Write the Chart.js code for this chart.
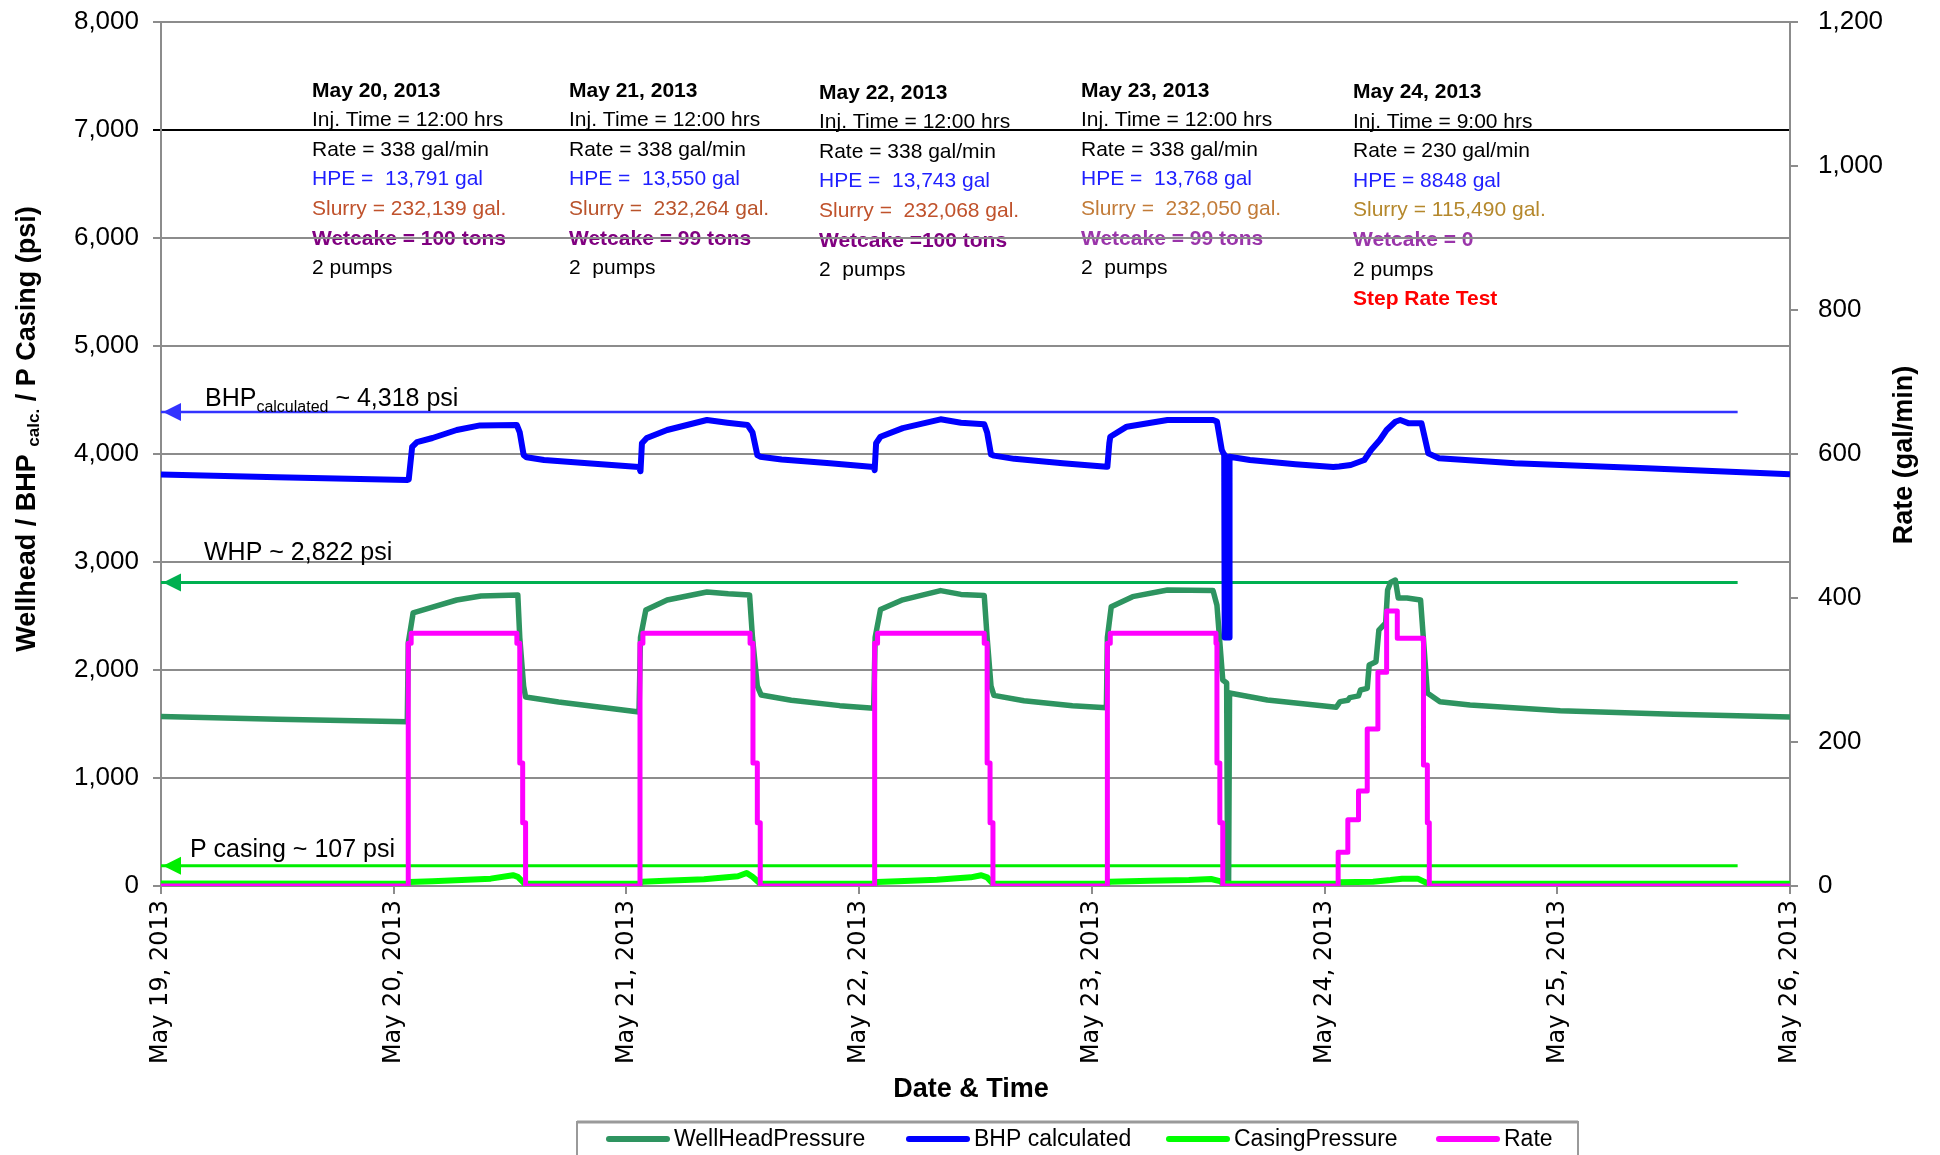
<!DOCTYPE html>
<html>
<head>
<meta charset="utf-8">
<title>Injection pressures and rate, May 19-26, 2013</title>
<script src="https://cdn.jsdelivr.net/npm/chart.js@4.4.0/dist/chart.umd.min.js"></script>
<style>
  html, body { margin: 0; padding: 0; background: #fff; }
  canvas { display: block; }
</style>
</head>
<body>
<canvas id="chart" width="1940" height="1155" style="width:1940px;height:1155px"></canvas>
<script>
// Time axis: hours since May 19, 2013 00:00
const xTickLabels = ['May 19, 2013', 'May 20, 2013', 'May 21, 2013', 'May 22, 2013',
                     'May 23, 2013', 'May 24, 2013', 'May 25, 2013', 'May 26, 2013'];

// WellHeadPressure (psi)
const whpHours = [0, 12, 25.4, 25.5, 26.0, 28.0, 30.5, 33.0, 36.8, 37.0, 37.4, 37.6, 41.0, 46.0, 49.3,
  49.45, 50.0, 52.2, 56.3, 58.5, 60.7, 61.0, 61.5, 61.9, 65.0, 70.0, 73.5,
  73.65, 74.2, 76.5, 80.4, 82.5, 84.9, 85.2, 85.6, 85.9, 89.0, 94.0, 97.5,
  97.6, 98.0, 100.2, 103.8, 108.5, 108.9, 109.5, 109.9, 110.0, 110.1, 110.2, 114.1, 121.2,
  121.6, 122.4, 122.6, 123.5, 123.7, 124.4, 124.6, 125.3, 125.6, 126.3, 126.5, 126.8, 127.3, 127.6,
  128.5, 129.9, 130.3, 130.6, 131.9, 135.0, 144.3, 156.0, 168.0];
const whpPsi = [1570, 1545, 1521, 2250, 2528, 2583, 2648, 2685, 2694, 2300, 1850, 1750, 1704, 1648, 1611,
  2300, 2555, 2648, 2722, 2705, 2694, 2300, 1850, 1768, 1720, 1670, 1645,
  2300, 2560, 2650, 2735, 2700, 2690, 2300, 1850, 1765, 1715, 1670, 1650,
  2300, 2586, 2679, 2741, 2735, 2600, 1907, 1880, 0, 0, 1787, 1722, 1655,
  1707, 1720, 1744, 1760, 1815, 1830, 2046, 2077, 2370, 2435, 2741, 2810, 2833, 2667,
  2667, 2648, 2157, 1787, 1707, 1676, 1623, 1590, 1565];

// BHP calculated (psi)
const bhpHours = [0, 12, 25.4, 25.55, 25.9, 26.4, 28.0, 30.5, 32.9, 36.7, 37.0, 37.4, 37.7, 39.5, 44.0, 49.3,
  49.45, 49.6, 50.1, 52.2, 56.3, 58.4, 60.5, 61.0, 61.5, 61.8, 64.0, 69.0, 73.5,
  73.6, 73.75, 74.2, 76.5, 80.4, 82.5, 84.9, 85.2, 85.6, 85.9, 88.0, 93.0, 97.5,
  97.6, 97.8, 97.9, 99.6, 103.8, 108.5, 108.9, 109.4, 109.65, 109.7, 110.15, 110.2, 112.3, 117.0, 120.9,
  121.5, 122.7, 124.1, 124.8, 125.7, 126.4, 127.3, 127.8, 128.7, 130.0, 130.7, 131.8, 139.6, 153.2, 168.0];
const bhpPsi = [3810, 3785, 3760, 3765, 4065, 4110, 4148, 4222, 4265, 4268, 4200, 3990, 3970, 3945, 3915, 3880,
  3840, 4100, 4148, 4222, 4315, 4290, 4268, 4200, 3990, 3975, 3950, 3915, 3880,
  3850, 4100, 4160, 4240, 4321, 4290, 4275, 4200, 3995, 3985, 3955, 3915, 3882,
  3882, 4100, 4160, 4253, 4315, 4315, 4300, 4037, 3990, 2300, 2300, 3975, 3944, 3905, 3880,
  3885, 3898, 3944, 4037, 4130, 4222, 4299, 4315, 4284, 4284, 4006, 3960, 3914, 3867, 3812];

// CasingPressure (psi)
const casingHours = [0, 25.4, 25.6, 28.0, 31.0, 34.0, 36.3, 36.8, 37.5,
  49.4, 49.6, 52.0, 56.0, 59.5, 60.4, 61.0, 61.8,
  73.6, 73.8, 76.0, 80.0, 83.5, 84.6, 85.2, 85.8,
  97.6, 97.8, 102.0, 106.0, 108.3, 109.2, 109.6,
  121.4, 121.6, 125.0, 126.8, 128.0, 129.6, 130.5, 131.0, 168.0];
const casingPsi = [22, 20, 38, 45, 55, 68, 100, 85, 22,
  20, 40, 48, 62, 90, 120, 85, 22,
  20, 38, 45, 58, 80, 100, 80, 22,
  20, 40, 48, 55, 65, 45, 20,
  20, 35, 40, 55, 68, 68, 30, 20, 20];

// Rate (gal/min), each value holds until the next time
const rateHours = [0, 25.5, 25.8, 36.7, 37.0, 37.3, 37.6,
  49.4, 49.7, 60.75, 61.05, 61.5, 61.8,
  73.6, 73.9, 84.9, 85.2, 85.5, 85.8,
  97.6, 97.9, 108.8, 108.9, 109.2, 109.5,
  121.4, 122.4, 123.5, 124.4, 125.5, 126.4, 127.5, 130.2, 130.6, 130.8, 168.0];
const rateGpm = [0, 337, 351, 337, 171, 88, 0,
  337, 351, 337, 171, 88, 0,
  337, 351, 337, 171, 88, 0,
  337, 351, 337, 171, 88, 0,
  47, 92, 132, 218, 297, 382, 344, 168, 88, 0, 0];

// Reference levels drawn as arrows (psi) and their span (hours)
const refSpan = [0, 162.6];
const bhpRefPsi = 4390;
const whpRefPsi = 2810;
const casingRefPsi = 188;

// Daily injection notes
const noteBlocks = [
  ['May 20, 2013', 'Inj. Time = 12:00 hrs', 'Rate = 338 gal/min', 'HPE =  13,791 gal', 'Slurry = 232,139 gal.', 'Wetcake = 100 tons', '2 pumps'],
  ['May 21, 2013', 'Inj. Time = 12:00 hrs', 'Rate = 338 gal/min', 'HPE =  13,550 gal', 'Slurry =  232,264 gal.', 'Wetcake = 99 tons', '2  pumps'],
  ['May 22, 2013', 'Inj. Time = 12:00 hrs', 'Rate = 338 gal/min', 'HPE =  13,743 gal', 'Slurry =  232,068 gal.', 'Wetcake =100 tons', '2  pumps'],
  ['May 23, 2013', 'Inj. Time = 12:00 hrs', 'Rate = 338 gal/min', 'HPE =  13,768 gal', 'Slurry =  232,050 gal.', 'Wetcake = 99 tons', '2  pumps'],
  ['May 24, 2013', 'Inj. Time = 9:00 hrs', 'Rate = 230 gal/min', 'HPE = 8848 gal', 'Slurry = 115,490 gal.', 'Wetcake = 0', '2 pumps', 'Step Rate Test']
];

const FONT = '"Liberation Sans", Arial, sans-serif';
const toPoints = (xs, ys) => xs.map((x, i) => ({ x: x, y: ys[i] }));

// note block placement and row styles
const noteLeft = [312, 569, 819, 1081, 1353];
const noteTop = [96.5, 96.5, 98.5, 96.5, 98];
const noteRowStyles = [
  { bold: true, color: '#000' },
  { bold: false, color: '#000' },
  { bold: false, color: '#000' },
  { bold: false, color: '#1f1fff' },
  { bold: false, color: '#c0522c' },
  { bold: true, color: '#800080' },
  { bold: false, color: '#000' },
  { bold: true, color: '#ff0000' }
];
const slurryColors = ['#c0522c', '#b9532b', '#c0522c', '#c27b38', '#b5882c'];
const wetcakeColors = ['#800080', '#800080', '#800080', '#9a35aa', '#9a35aa'];

const notesPlugin = {
  id: 'notes',
  beforeDraw(chart) {
    const ctx = chart.ctx;
    ctx.save();
    ctx.fillStyle = '#fff';
    ctx.fillRect(0, 0, chart.width, chart.height);
    ctx.textBaseline = 'alphabetic';
    ctx.textAlign = 'left';
    noteBlocks.forEach((lines, b) => {
      lines.forEach((txt, r) => {
        const st = noteRowStyles[r];
        let color = st.color;
        if (r === 4) color = slurryColors[b];
        if (r === 5) color = wetcakeColors[b];
        ctx.font = (st.bold ? 'bold ' : '') + '21px ' + FONT;
        ctx.fillStyle = color;
        ctx.fillText(txt, noteLeft[b], noteTop[b] + r * 29.6);
      });
    });
    ctx.restore();
  }
};

// draws text made of [text, size, baselineShift] runs, left to right
function drawRuns(ctx, runs, x, y, bold) {
  let cx = x;
  runs.forEach(([t, size, dy]) => {
    ctx.font = (bold ? 'bold ' : '') + size + 'px ' + FONT;
    ctx.fillText(t, cx, y + dy);
    cx += ctx.measureText(t).width;
  });
  return cx - x;
}
function runsWidth(ctx, runs, bold) {
  let w = 0;
  runs.forEach(([t, size]) => {
    ctx.font = (bold ? 'bold ' : '') + size + 'px ' + FONT;
    w += ctx.measureText(t).width;
  });
  return w;
}

const decorPlugin = {
  id: 'decor',
  afterDatasetsDraw(chart) {
    const ctx = chart.ctx;
    const xs = chart.scales.x, ys = chart.scales.y;
    const x0 = xs.getPixelForValue(refSpan[0]);
    const arrows = [
      [bhpRefPsi, '#3333ff'],
      [whpRefPsi, '#00b050'],
      [casingRefPsi, '#00ee00']
    ];
    ctx.save();
    arrows.forEach(([v, c]) => {
      const y = ys.getPixelForValue(v);
      ctx.fillStyle = c;
      ctx.beginPath();
      ctx.moveTo(x0 + 2, y);
      ctx.lineTo(x0 + 20, y - 9);
      ctx.lineTo(x0 + 20, y + 9);
      ctx.closePath();
      ctx.fill();
    });
    ctx.fillStyle = '#000';
    ctx.textAlign = 'left';
    ctx.textBaseline = 'alphabetic';
    drawRuns(ctx, [['BHP', 25, 0], ['calculated', 16, 6], [' ~ 4,318 psi', 25, 0]], 205, ys.getPixelForValue(bhpRefPsi) - 6, false);
    drawRuns(ctx, [['WHP ~ 2,822 psi', 25, 0]], 204, ys.getPixelForValue(whpRefPsi) - 23, false);
    drawRuns(ctx, [['P casing ~ 107 psi', 25, 0]], 190, ys.getPixelForValue(casingRefPsi) - 9, false);
    ctx.restore();
  },
  afterDraw(chart) {
    const ctx = chart.ctx;
    ctx.save();
    ctx.fillStyle = '#000';
    ctx.textBaseline = 'middle';
    ctx.textAlign = 'left';

    // left axis title with subscript
    const leftRuns = [['Wellhead / BHP ', 27, 0], ['calc.', 17, 6], [' / P Casing (psi)', 27, 0]];
    const lw = runsWidth(ctx, leftRuns, true);
    ctx.save();
    ctx.translate(28, 429 + lw / 2);
    ctx.rotate(-Math.PI / 2);
    drawRuns(ctx, leftRuns, 0, 0, true);
    ctx.restore();

    // right axis title
    ctx.save();
    ctx.translate(1905, 455);
    ctx.rotate(-Math.PI / 2);
    ctx.textAlign = 'center';
    ctx.font = 'bold 27px ' + FONT;
    ctx.fillText('Rate (gal/min)', 0, 0);
    ctx.restore();

    // x axis title
    ctx.textAlign = 'center';
    ctx.textBaseline = 'alphabetic';
    ctx.font = 'bold 27px ' + FONT;
    ctx.fillText('Date & Time', 971, 1097);

    // legend box
    ctx.strokeStyle = '#9a9a9a';
    ctx.lineWidth = 2;
    ctx.strokeRect(577, 1122, 1001, 40);
    ctx.beginPath();
    ctx.moveTo(577, 1122);
    ctx.lineTo(1578, 1122);
    ctx.lineWidth = 3;
    ctx.stroke();
    const items = chart.data.datasets.filter(d => d.legendIndex !== undefined)
      .sort((a, b) => a.legendIndex - b.legendIndex);
    const itemX = [609, 909, 1169, 1439];
    ctx.textAlign = 'left';
    ctx.textBaseline = 'middle';
    ctx.font = '23px ' + FONT;
    ctx.lineCap = 'round';
    items.forEach((d, i) => {
      ctx.strokeStyle = d.borderColor;
      ctx.lineWidth = 6;
      ctx.beginPath();
      ctx.moveTo(itemX[i], 1139);
      ctx.lineTo(itemX[i] + 58, 1139);
      ctx.stroke();
      ctx.fillStyle = '#000';
      ctx.fillText(d.label, itemX[i] + 65, 1140);
    });
    ctx.restore();
  }
};

const GRID = '#8c8c8c';
// keep the plot area fixed: no extra room for half tick labels
const noPad = s => { s.paddingTop = 0; s.paddingBottom = 0; };

new Chart(document.getElementById('chart'), {
  type: 'line',
  data: {
    datasets: [
      { label: 'Rate', legendIndex: 3, data: toPoints(rateHours, rateGpm), yAxisID: 'y1',
        borderColor: '#ff00ff', borderWidth: 5, stepped: true, order: 0 },
      { label: 'CasingPressure', legendIndex: 2, data: toPoints(casingHours, casingPsi), yAxisID: 'y',
        borderColor: '#00ff00', borderWidth: 6, order: 1 },
      { label: 'BHP calculated', legendIndex: 1, data: toPoints(bhpHours, bhpPsi), yAxisID: 'y',
        borderColor: '#0000ff', borderWidth: 6, order: 2 },
      { label: 'WellHeadPressure', legendIndex: 0, data: toPoints(whpHours, whpPsi), yAxisID: 'y',
        borderColor: '#2e9460', borderWidth: 5.5, order: 3 },
      { label: 'BHP ref', data: toPoints(refSpan, [bhpRefPsi, bhpRefPsi]), yAxisID: 'y',
        borderColor: '#3333ff', borderWidth: 2.5, order: 4 },
      { label: 'WHP ref', data: toPoints(refSpan, [whpRefPsi, whpRefPsi]), yAxisID: 'y',
        borderColor: '#00b050', borderWidth: 3, order: 5 },
      { label: 'Casing ref', data: toPoints(refSpan, [casingRefPsi, casingRefPsi]), yAxisID: 'y',
        borderColor: '#00ee00', borderWidth: 3, order: 6 }
    ]
  },
  options: {
    responsive: false,
    animation: false,
    layout: { padding: { top: 22, left: 0, right: 0, bottom: 0 } },
    elements: {
      point: { radius: 0, hoverRadius: 0 },
      line: { tension: 0, borderJoinStyle: 'round', borderCapStyle: 'butt' }
    },
    plugins: { legend: { display: false }, tooltip: { enabled: false } },
    scales: {
      x: {
        type: 'linear', min: 0, max: 168,
        ticks: {
          stepSize: 24, autoSkip: false, minRotation: 90, maxRotation: 90, padding: 6,
          color: '#000', font: { family: '"DejaVu Sans", sans-serif', size: 24 },
          callback: v => xTickLabels[Math.round(v / 24)]
        },
        grid: { drawOnChartArea: false, tickLength: 8, color: GRID, lineWidth: 2 },
        border: { color: GRID, width: 2 },
        afterFit: s => { s.height = 269; s.paddingLeft = 0; s.paddingRight = 0; }
      },
      y: {
        position: 'left', min: 0, max: 8000,
        ticks: {
          stepSize: 1000, autoSkip: false, padding: 14, color: '#000',
          font: { family: FONT, size: 26 },
          callback: v => v.toLocaleString('en-US')
        },
        grid: {
          tickLength: 8, lineWidth: 2,
          color: c => (c.tick && c.tick.value === 7000) ? '#000' : GRID
        },
        border: { color: GRID, width: 2 },
        afterFit: s => { s.width = 161; noPad(s); }
      },
      y1: {
        position: 'right', min: 0, max: 1200,
        ticks: {
          stepSize: 200, autoSkip: false, padding: 20, color: '#000',
          font: { family: FONT, size: 26 },
          callback: v => v.toLocaleString('en-US')
        },
        grid: { drawOnChartArea: false, tickLength: 8, color: GRID, lineWidth: 2 },
        border: { color: GRID, width: 2 },
        afterFit: s => { s.width = 150; noPad(s); }
      }
    }
  },
  plugins: [notesPlugin, decorPlugin]
});
</script>
</body>
</html>
